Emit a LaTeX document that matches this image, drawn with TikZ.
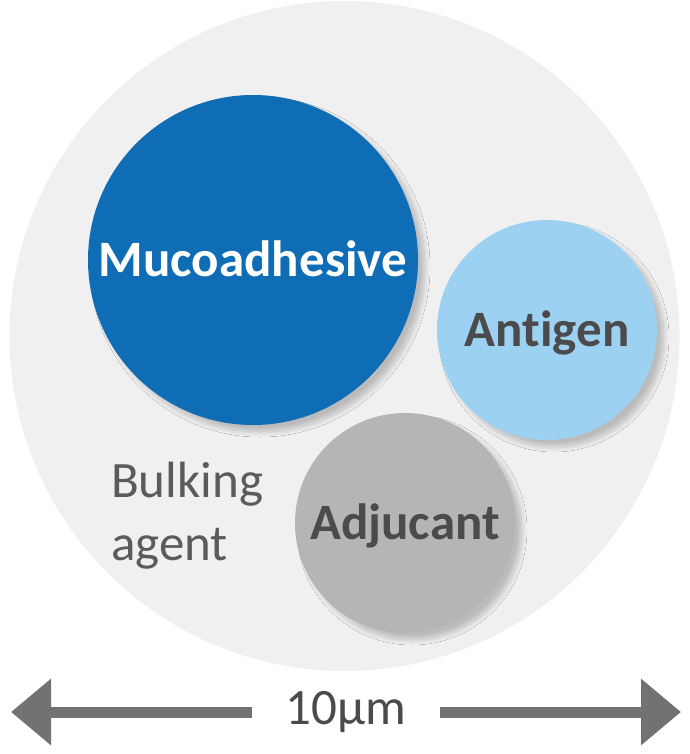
\documentclass[tikz,border=0pt]{standalone}
\usepackage{fontspec}
\setmainfont{Carlito}[Ligatures=NoCommon]
\usetikzlibrary{arrows.meta,positioning,shadows.blur}
\definecolor{bulkfill}{HTML}{F0F0F0}
\definecolor{mucoblue}{HTML}{0F6DB6}
\definecolor{antiblue}{HTML}{9CD1F1}
\definecolor{adjugray}{HTML}{B4B5B7}
\definecolor{labelgray}{HTML}{4B4B4D}
\definecolor{textgray}{HTML}{5A5B5D}
\definecolor{arrowgray}{HTML}{707274}
\tikzset{
	particle/.style={circle,inner sep=0pt,text height=33pt,text depth=0pt,
		font=\bfseries\fontsize{51}{60}\selectfont,
		blur shadow={shadow xshift=7pt,shadow yshift=-7pt,shadow opacity=22,
			shadow blur radius=5pt,shadow blur steps=12}},
	plain/.style={font=\fontsize{51}{60}\selectfont,text=textgray,inner sep=0pt},
	dimarrow/.style={draw=arrowgray,line width=11pt,-{Triangle[length=40pt,width=64pt]}}
}

\begin{document}
\begin{tikzpicture}[x=1pt,y=-1pt]
	\useasboundingbox (0,0) rectangle (689,754);
	
	% -------------------------------------------------
	% 1. Microparticle
	% -------------------------------------------------
	\fill[bulkfill] (344.5,336) circle (335);
	
	% -------------------------------------------------
	% 2. Components
	% -------------------------------------------------
	\node[particle,fill=mucoblue,text=white,minimum size=330pt] (muco) at (253,260) {Mucoadhesive};
	\node[particle,fill=antiblue,text=labelgray,minimum size=220pt] (anti) at (547,330) {Antigen};
	\node[particle,fill=adjugray,text=labelgray,minimum size=220pt] (adju) at (405,523) {Adjucant};
	
	% bulking agent label
	\node[plain,anchor=base west] (bulkA) at (111,497) {Bulking};
	\node[plain,anchor=base west] (bulkB) at (111,560) {agent};
	
	% -------------------------------------------------
	% 3. Scale
	% -------------------------------------------------
	\node[plain,text=labelgray,text height=34pt,inner xsep=34pt] (size) at (346,712) {10µm};
	\coordinate (lefttip) at (11,712);
	\coordinate (righttip) at (681,712);
	\draw[dimarrow] (size) -- (lefttip);
	\draw[dimarrow] (size) -- (righttip);
	
\end{tikzpicture}
\end{document}
